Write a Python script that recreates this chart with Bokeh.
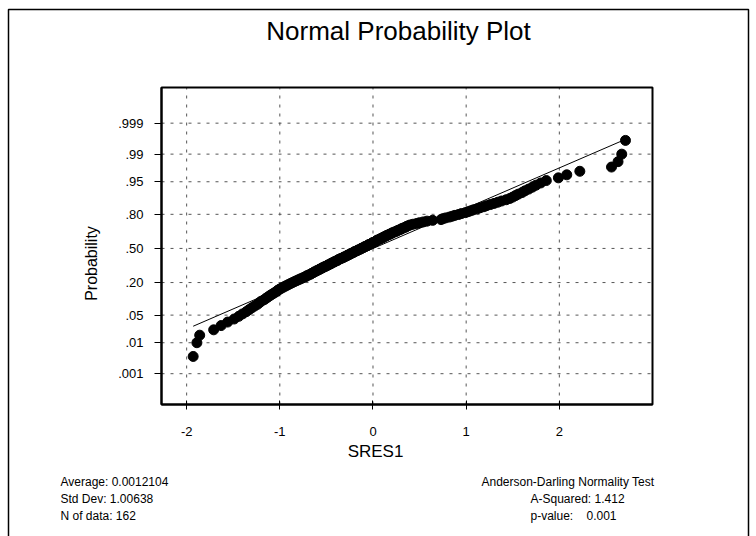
import math
from bokeh.plotting import figure
from bokeh.models import Range1d, FixedTicker, Label, BoxAnnotation, LinearAxis
from bokeh.embed import file_html
from bokeh.resources import INLINE

# ---------------- data ----------------
N_DATA = 162
MEAN = 0.0012104
STD_DEV = 1.00638
A_SQUARED = 1.412
P_VALUE = 0.001

prob_ticks = [0.001, 0.01, 0.05, 0.20, 0.50, 0.80, 0.95, 0.99, 0.999]
prob_labels = [".001", ".01", ".05", ".20", ".50", ".80", ".95", ".99", ".999"]
x_ticks = [-2, -1, 0, 1, 2]
x_tick_labels = ["-2", "-1", "0", "1", "2"]

# sorted standardized residuals
sres1 = [
    -1.93, -1.89, -1.86, -1.71, -1.63, -1.56, -1.49, -1.44, -1.40, -1.36,
    -1.33, -1.30, -1.27, -1.24, -1.22, -1.20, -1.17, -1.15, -1.13, -1.11,
    -1.09, -1.07, -1.05, -1.03, -1.02, -1.00, -0.98, -0.96, -0.94, -0.92,
    -0.90, -0.88, -0.86, -0.84, -0.82, -0.80, -0.78, -0.76, -0.74, -0.72,
    -0.71, -0.69, -0.67, -0.66, -0.64, -0.63, -0.61, -0.60, -0.58, -0.57,
    -0.55, -0.54, -0.52, -0.51, -0.49, -0.48, -0.46, -0.45, -0.44, -0.42,
    -0.41, -0.39, -0.38, -0.37, -0.35, -0.34, -0.32, -0.31, -0.29, -0.28,
    -0.27, -0.25, -0.24, -0.23, -0.21, -0.20, -0.19, -0.17, -0.16, -0.14,
    -0.13, -0.12, -0.10, -0.09, -0.08, -0.06, -0.05, -0.04, -0.02, -0.01,
    0.00, 0.02, 0.03, 0.04, 0.05, 0.07, 0.08, 0.10, 0.11, 0.12,
    0.14, 0.15, 0.17, 0.18, 0.20, 0.21, 0.23, 0.25, 0.26, 0.28,
    0.30, 0.31, 0.33, 0.35, 0.36, 0.38, 0.40, 0.43, 0.47, 0.50,
    0.54, 0.58, 0.64, 0.73, 0.75, 0.78, 0.82, 0.85, 0.88, 0.92,
    0.95, 0.99, 1.02, 1.05, 1.08, 1.12, 1.15, 1.19, 1.22, 1.26,
    1.30, 1.34, 1.38, 1.43, 1.47, 1.50, 1.53, 1.56, 1.60, 1.63,
    1.67, 1.71, 1.75, 1.80, 1.86, 1.99, 2.08, 2.22, 2.56, 2.63,
    2.67, 2.71,
]


def norm_ppf(p):
    lo, hi = -10.0, 10.0
    for _ in range(200):
        mid = 0.5 * (lo + hi)
        if 0.5 * (1.0 + math.erf(mid / math.sqrt(2.0))) < p:
            lo = mid
        else:
            hi = mid
    return round(0.5 * (lo + hi), 6)


n = len(sres1)
# normal scores (plotting positions) of the ranked residuals
scores = [norm_ppf((i - 0.375) / (n + 0.25)) for i in range(1, n + 1)]
tick_z = [norm_ppf(p) for p in prob_ticks]

# fitted line (mean / std dev)
line_x = [min(sres1), max(sres1)]
line_z = [(v - MEAN) / STD_DEV for v in line_x]

# ---------------- layout ----------------
W, H = 756, 536
FONT = "Liberation Sans"
# inner plot box in pixels (left, right, top, bottom) and its data limits
BL, BR, BT, BB = 161, 652, 87, 404
X0, X1 = -2.27, 3.0
Z0, Z1 = -3.85, 3.97
sx = (BR - BL) / (X1 - X0)
sy = (BB - BT) / (Z1 - Z0)
# the frame covers the whole canvas, so everything can be drawn in it
x_range = Range1d(X0 - BL / sx, X1 + (W - BR) / sx)
y_range = Range1d(Z0 - (H - BB) / sy, Z1 + BT / sy)

p = figure(width=W, height=H, output_backend="svg", toolbar_location=None,
           x_range=x_range, y_range=y_range, x_axis_type=None, y_axis_type=None,
           min_border=0, min_border_left=0, min_border_right=0,
           min_border_top=0, min_border_bottom=0, title=None)
p.background_fill_color = "white"
p.border_fill_color = "white"
p.outline_line_color = None

# grid (dotted) inside the box
p.segment(x0=x_ticks, y0=[Z0] * len(x_ticks), x1=x_ticks, y1=[Z1] * len(x_ticks),
          line_color="#555555", line_width=1, line_dash="3 6")
p.segment(x0=[X0] * len(tick_z), y0=tick_z, x1=[X1] * len(tick_z), y1=tick_z,
          line_color="#555555", line_width=1, line_dash="3 6")

# box
p.quad(left=[X0], right=[X1], bottom=[Z0], top=[Z1], fill_color=None,
       line_color="black", line_width=2)

# axes fixed to the box edges
xaxis = LinearAxis(fixed_location=Z0, bounds=(X0, X1),
                   ticker=FixedTicker(ticks=x_ticks),
                   major_label_overrides={t: l for t, l in zip(x_ticks, x_tick_labels)})
yaxis = LinearAxis(fixed_location=X0, bounds=(Z0, Z1),
                   ticker=FixedTicker(ticks=tick_z),
                   major_label_overrides={z: l for z, l in zip(tick_z, prob_labels)})
for ax in (xaxis, yaxis):
    ax.axis_line_color = "black"
    ax.axis_line_width = 2
    ax.major_tick_line_color = "black"
    ax.major_tick_line_width = 1
    ax.minor_tick_line_color = None
    ax.major_label_text_font = FONT
    ax.major_label_text_font_size = "13px"
    ax.major_label_text_color = "black"
xaxis.major_tick_in = 4
xaxis.major_tick_out = 5
xaxis.major_label_standoff = 17
yaxis.major_tick_in = 0
yaxis.major_tick_out = 7
yaxis.major_label_standoff = 11
p.add_layout(xaxis, "below")
p.add_layout(yaxis, "left")

# data
p.line(line_x, line_z, line_color="black", line_width=1)
p.scatter(sres1, scores, size=10, marker="circle",
          fill_color="black", line_color="black")


# texts (canvas pixels, y measured from the top)
def lab(x, y, text, size, align="left", angle=0.0):
    p.add_layout(Label(x=x, y=y, x_units="canvas", y_units="canvas",
                       text=text, text_font=FONT, text_font_size=size,
                       text_color="black", text_align=align,
                       text_baseline="middle", angle=angle))


lab(398, 30, "Normal Probability Plot", "26px", "center")
lab(91, 263, "Probability", "16px", "center", math.pi / 2)
lab(375, 451, "SRES1", "17px", "center")

lab(60, 481, f"Average: {MEAN}", "12px")
lab(60, 498, f"Std Dev: {STD_DEV}", "12px")
lab(60, 515, f"N of data: {N_DATA}", "12px")

lab(481, 481, "Anderson-Darling Normality Test", "12px")
lab(530, 498, f"A-Squared: {A_SQUARED}", "12px")
lab(530, 515, "p-value:", "12px")
lab(586, 515, f"{P_VALUE:.3f}", "12px")

# outer page frame
p.add_layout(BoxAnnotation(left=8, right=748, top=9, bottom=H + 20,
                           left_units="canvas", right_units="canvas",
                           top_units="canvas", bottom_units="canvas",
                           fill_alpha=0, line_color="black", line_alpha=1,
                           line_width=1.5))

open("out.html", "w").write(file_html(p, INLINE))
